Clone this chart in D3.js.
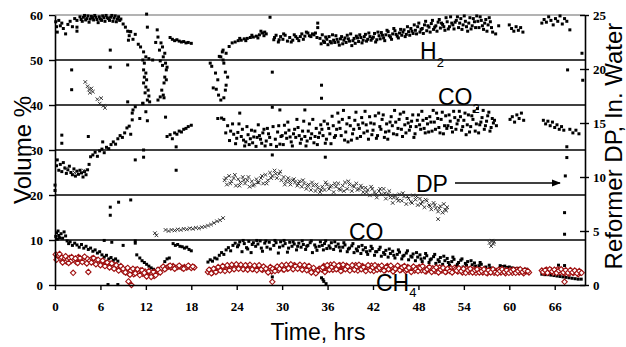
<!DOCTYPE html>
<html><head><meta charset="utf-8">
<script src="https://cdn.jsdelivr.net/npm/d3@7"></script>
<style>
html,body{margin:0;padding:0;background:#fff;}
svg{display:block;}
.ttl{font-family:"Liberation Sans",Arial,sans-serif;fill:#000;}
</style></head><body>
<svg id="c" width="626" height="347"></svg>
<script>
// ---------- data ----------
const xTicks = [0,6,12,18,24,30,36,42,48,54,60,66];
const leftTicks = [0,10,20,30,40,50,60];
const rightTicks = [0,5,10,15,20,25];
const gridVals = [10,20,30,40,50];

// H2, volume % (time hrs, value)
const h2 = [[0.1,58.5],[0.2,57.4],[0.3,56.2],[0.5,58.8],[0.7,57.6],[0.9,58.2],[1.1,57],[1.4,55.8],[1.7,57.9],[2,58.6],[2.3,57.4],[2.6,59.2],[2.9,58.8],[2.9,57.3],[2.9,56.4],[3.3,59.6],[3.6,58.6],[3.9,59.9],[4.2,59.2],[4.5,58.4],[4.8,59.7],[5.1,58.9],[5.4,59.5],[5.7,58.3],[6,59.1],[6.3,59.8],[6.6,58.6],[6.9,59.4],[7.2,58.8],[7.5,59.9],[7.8,59.3],[8.1,58.5],[8.4,59.6],[8.7,59.1],[9,58],[9.3,57.3],[9.6,56.4],[9.8,55.4],[10,56.3],[10.3,54.6],[10.6,55.7],[11,53.5],[11.3,52.9],[11.7,51.8],[12,50.7],[12.4,50.3],[12.9,50],[12.1,60.2],[12.2,57.3],
[3.45,59],[3.75,59.5],[4.05,58.9],[4.35,59.8],[4.65,59.1],[4.95,59.4],[5.25,59.9],[5.55,59],[5.85,59.6],[6.15,58.8],[6.45,59.4],[6.75,59.9],[7.05,59.2],[7.35,59.5],[7.65,58.6],[7.95,59.8],[8.25,59.1],[8.55,58.8],
[7.3,52.2],[7.3,48.4],[9.6,48.9],[9.6,40.7],[2.2,47.8],[2.2,43.4],[9.7,54.4],[9.9,56.3],
[11.6,50],[11.8,49.3],[11.7,47.8],[12,47.1],[11.8,46.2],[12.1,45.6],[11.7,44.9],[12,44],[12.3,43.3],[11.9,42.7],[12.2,41.1],[12.4,42],[11.6,40.4],[12.5,40.7],
[13.5,56.7],[13.6,55.1],[14,53.8],[14.2,52.9],[14.5,51.5],[14.3,50.7],[14.6,49.3],[14.8,48.4],[14.7,47.8],[14.5,46.2],[14.4,44.9],[14.1,43.3],[13.9,41.8],[13.6,41.1],[14.3,42.2],[13.8,52.2],[14.7,45.6],[14.2,48.8],[13.3,53.9],[13.9,49.8],[14.4,41.6],
[15.2,55],[15.5,54.6],[15.8,54.3],[16.1,54.5],[16.4,54.2],[16.7,54],[17,54.1],[17.3,53.8],[17.6,53.9],[18,53.7],
[20.5,49.3],[20.7,48.6],[21.2,47.1],[21.5,45.6],[20.9,43.8],[21.3,43.5],[21.6,42.2],[21.9,41.1],[22.3,41.6],[22.5,43.3],[22.6,44.4],[22.8,46.2],[22.5,47.3],[22.3,49.3],[22.2,50],[21.9,50.7],[22.1,51.8],[21.7,50.8],
[22.2,52.2],[22.6,51.5],[23,53],[23.4,53.8],[23.8,54],[24.2,54.3],[24.6,54.4],[25,54.7],[25.4,54.8],[25.8,55],[26.2,55.1],[26.6,55.3],[27,55.6],[27.4,56],[27.7,56.2],[27.9,55.8],[28.4,59.5],[28.7,47.3],
[24.4,54.8],[25.2,54.3],[26,55.5],[26.8,54.9],[27.2,56.4],[27.6,55.4],[29,55],[29.6,54.5],[30.2,55.8],[31.2,54],[31.6,55.6],[32,54.8],[32.4,55.2],[32.8,54.6],[33.2,56.2],[33.6,55.4],[34,55.8],[34.4,56],
[28.9,54.5],[29.2,55.5],[29.5,54],[29.8,55.2],[30.1,54.6],[30.4,55.5],[30.7,54.2],[31,55],[31.4,54.4],[31.8,55.2],[32.2,54.3],[32.6,55.8],[33,55.3],[33.4,56],[33.8,55.2],[34.2,55.6],[34.6,55],[34.7,58.2],[34.7,57.2],[35.2,44.4],[35.2,41.5],
[35,54.8],[35.3,55.6],[35.6,53.9],[35.9,54.6],[36.2,55.2],[36.5,53.8],[36.8,54.4],[37.1,55.4],[37.4,54],[37.7,54.7],[38,53.6],[38.3,54.9],[38.6,55.5],[38.9,54.2],[39.2,53.2],[39.5,54.8],[39.8,55.3],[40.1,54.1],[40.4,55],[40.7,54.4],[41,55.7],[41.3,54.6],[41.6,55.2],[41.9,54.8],[42.2,55.9],[42.5,54.5],[42.8,55.4],[43.1,56.1],[43.4,54.9],[43.7,55.6],[44,56.3],[44.3,55.1],[44.6,55.8],[44.9,56.5],[45.2,55.3],[45.5,56],[45.8,55.5],[46.1,56.7],[46.4,55.7],[46.7,56.3],[47,57],[47.3,55.9],[47.6,56.6],[47.9,57.4],[48.2,56.2],[48.5,57],[48.8,57.8],[49.1,56.5],[49.4,57.3],[49.7,58.1],[50,56.8],[50.3,57.6],[50.6,58.4],[50.9,57.1],[51.2,57.9],[51.5,56.6],[51.8,58.5],[52.1,57.4],[52.4,58.2],[52.7,56.9],
[35.15,53.6],[35.45,54.2],[35.75,55.1],[36.05,53.4],[36.35,54.1],[36.65,55.6],[36.95,53.9],[37.25,54.6],[37.55,53.3],[37.85,55.2],[38.15,54.4],[38.45,53.9],[38.75,54.7],[39.05,55.8],[39.35,54.3],[39.65,53.7],[39.95,54.9],[40.25,55.6],[40.55,53.8],[40.85,55.2],[41.15,54.2],[41.45,56],[41.75,54.4],[42.05,55.1],[42.35,54],[42.65,56.2],[42.95,54.7],[43.25,55.5],[43.55,54.3],[43.85,56.6],[44.15,55.4],[44.45,54.6],[44.75,57],[45.05,55.7],[45.35,54.9],[45.65,56.8],[45.95,56.2],[46.25,55.2],[46.55,57.4],[46.85,55.5],[47.15,56.4],[47.45,57.8],[47.75,55.8],[48.05,58.2],[48.35,56.8],[48.65,55.9],[48.95,58.6],[49.25,57.6],[49.55,56.2],[49.85,58.8],[50.15,57.3],[50.45,56.4],[50.75,59],[51.05,58.2],[51.35,57.4],[51.65,59.4],[51.95,56.9],[52.25,59.6],[52.55,57.8],[52.85,58.4],
[53,58.8],[53.3,57.2],[53.6,59.2],[53.9,57.8],[54.2,58.6],[54.5,56.4],[54.8,59.4],[55.1,57.6],[55.4,58.5],[55.7,59.8],[56,57.2],[56.3,58.8],[56.6,56.8],[56.9,59],[57.2,57.8],[57.5,58.5],[57.8,56.2],[58.2,55.8],[58.6,57.6],
[53.15,59.6],[53.45,58.2],[53.75,56.8],[54.05,59.8],[54.35,57.4],[54.65,58.2],[54.95,56.9],[55.25,59.2],[55.55,57.2],[55.85,58.6],[56.15,59.6],[56.45,57.6],[56.75,58.2],[57.05,56.4],[57.35,59.4],[57.65,57.2],
[60,57.8],[60.3,57],[60.6,56.4],[60.9,57.4],[61.2,56.6],[61.5,57.2],[61.8,56.2],
[64.3,58.2],[64.6,59],[64.9,58.4],[65.2,59.6],[65.5,58.8],[65.8,57.8],[66.1,59.2],[66.4,58.6],[66.7,59.8],[67,58],[67.3,59.2],[67.6,58.6],[68,56.7],
[67.7,47.8],[69.6,51.5],[69.7,45.5]];

// CO2, volume %
const co2 = [[0.2,26.5],[0.3,27.8],[0.5,25.5],[0.7,26.8],[0.9,25.2],[1.1,27.2],[1.3,26],[1.5,24.8],[1.7,25.6],[1.9,26.4],[2.1,25],[2.3,24.5],[2.5,25.8],[2.7,24.2],[2.9,25.3],[3.1,24.6],[3.3,25.5],[3.5,24.9],[3.7,24],[3.9,25.2],[4.1,24.5],[4.3,25.6],[4.5,26.8],[4.7,28.5],[5,28.9],[5.3,29.5],[5.6,28.6],[5.9,29.8],[6.2,30.2],[6.5,29.4],[6.8,30.6],[7.1,30.3],[7.4,31.2],[7.7,31.8],[8,31.3],[8.3,32.5],[8.6,33.2],[8.9,32.8],[9.2,33.8],[9.5,34.9],[9.8,35.3],[10,33.5],[10.3,38.9],[10.6,39.6],[11.2,37],[11.6,40.3],[12,38.5],[12.2,36.5],[10.2,38.2],[10.2,36.7],
[0.9,33.3],[0.9,31.5],[4.4,33],[6.3,31.8],[10.6,27.8],[11.7,30],[11.7,28.4],[7.3,17.3],[7.3,15.5],[8.4,18.4],[10,18.9],[16,25.5],[0,21],[0,22.2],
[14.8,33],[15.2,33.4],[15.5,32.5],[15.8,33.8],[16.1,33.5],[16.4,34.2],[16.7,34],[17,34.6],[17.3,34.8],[17.6,35.2],[18,35.5],[14.6,37.3],[16,30.7],
[21.5,37],[22,37.1],[24.4,38.2],[22.3,36.8],[22.8,35.4],[23.2,34.2],[23.6,33.5],[24,32.6],[24.3,35.8],[24.6,33],[24.9,32.2],[25.2,31.8],[25.5,33.4],[25.8,32.5],[26.1,31.6],[26.4,34.2],[26.7,32.8],[27,33.2],[27.3,31.5],[27.6,34.6],[27.9,32],[28.2,33.6],[28.7,39.5],[28.7,28.9],[28.5,31.2],[28.8,35.2],[29.1,32.4],[29.4,34],[29.7,31.3],[29.7,38.9],[30,33.2],[30.3,35.5],[30.6,32.6],[30.9,34.4],[31.2,31.8],[31.5,33.6],[31.8,32.8],[32.1,35],[32.4,31.5],[32.7,34.2],[33,38.9],[33,33],[33.3,32],[33.6,35.8],[33.9,33.6],[34.2,31.6],[34.5,34.8],[34.8,32.8],[35.1,35.6],[35.7,28.4],
[22.55,33.8],[23.05,32.1],[23.45,35.8],[23.85,31.4],[24.15,33.9],[24.75,34.6],[25.05,30.9],[25.35,35.2],[25.65,31.2],[25.95,34.4],[26.25,32.9],[26.55,30.8],[26.85,35.6],[27.15,32.4],[27.45,33.8],[27.75,30.9],[28.05,34.8],[28.35,32.8],[29.25,30.8],[29.55,35.4],[29.85,33],[30.15,31.2],[30.45,33.8],[30.75,36.2],[31.05,32.9],[31.35,30.9],[31.65,34.6],[31.95,36.8],[32.25,33.2],[32.55,32.4],[32.85,36.4],[33.15,30.9],[33.45,34.2],[33.75,32.6],[34.05,36.8],[34.35,33],[34.65,31.2],[34.95,33.8],
[35.4,33.2],[35.7,31.5],[36,35.8],[36.3,33.6],[36.6,37.5],[36.9,32.8],[37.2,34.6],[37.5,36.2],[37.8,33.2],[38.1,38.8],[38.4,34],[38.7,31.8],[39,35.4],[39.3,33.6],[39.6,36.6],[39.9,32.6],[40.2,34.8],[40.5,37.2],[40.8,33.8],[41.1,35.6],[41.4,32.4],[41.7,36],[42,34.4],[42.3,37.6],[42.6,33.2],[42.9,35.2],[43.2,36.8],[43.5,32.8],[43.8,35.8],[44.1,34.2],[44.4,37.4],[44.7,33.6],[45,36.2],[45.3,34.8],[45.6,38],[45.9,33],[46.2,35.6],[46.5,37],[46.8,34.4],[47.1,36.4],[47.4,32.8],[47.7,35.2],[48,37.8],[48.3,34.6],[48.6,36.6],[48.9,33.8],[49.2,35.8],[49.5,37.4],[49.8,34.2],[50.1,36.2],[50.4,38.2],[50.7,35],[51,36.8],[51.3,33.6],[51.6,37.6],[51.9,35.4],[52.2,36.4],[52.5,34],[52.8,37.2],
[35.25,34.6],[35.55,36.4],[35.85,32.4],[36.15,34.8],[36.45,31.4],[36.75,35.4],[37.05,33.2],[37.35,38.2],[37.65,34.8],[37.95,36.8],[38.25,32.2],[38.55,35.8],[38.85,37.2],[39.15,32.2],[39.45,34.6],[39.75,38.4],[40.05,35.6],[40.35,33],[40.65,36],[40.95,38.6],[41.25,34.2],[41.55,37.4],[41.85,33.4],[42.15,35.8],[42.45,32.6],[42.75,38.2],[43.05,34.6],[43.35,37.8],[43.65,34],[43.95,32.4],[44.25,36.2],[44.55,35.4],[44.85,38.8],[45.15,33.4],[45.45,36.8],[45.75,34.6],[46.05,38.4],[46.35,33.8],[46.65,36],[46.95,35.2],[47.25,37.8],[47.55,33.6],[47.85,36.6],[48.15,35.6],[48.45,38.6],[48.75,34.8],[49.05,37],[49.35,34],[49.65,36.2],[49.95,38.8],[50.25,34.6],[50.55,37],[50.85,33.8],[51.15,38.4],[51.45,35.4],[51.75,34.8],[52.05,37.8],[52.35,35],[52.65,38.6],[52.95,34.6],
[53.1,35.8],[53.4,38.6],[53.7,34.4],[54,36.6],[54.3,33.4],[54.6,37.8],[54.9,35.2],[55.2,36.8],[55.5,34.2],[55.8,39.2],[56.1,35.6],[56.4,37.2],[56.7,34.6],[57,36.4],[57.3,38.4],[57.6,35],[57.9,36],[58.3,35.4],
[53.25,36.6],[53.55,37.4],[53.85,35.2],[54.15,38.2],[54.45,35.6],[54.75,34],[55.05,37.6],[55.35,38.6],[55.65,35.8],[55.95,33.8],[56.25,36.2],[56.55,38.8],[56.85,35.4],[57.15,37.6],[57.45,34.2],[57.75,37],[58.05,36.6],
[60.1,36.8],[60.4,37.4],[60.7,36.2],[61,37.8],[61.3,37],[61.6,38.2],[61.9,36.6],
[64.5,36.6],[64.8,35.8],[65.1,36.4],[65.4,35.4],[65.7,36.2],[66,35],[66.3,35.6],[66.6,34.6],[66.9,35.2],[67.2,34.4],
[68,34.6],[68.4,33.8],[68.8,34.4],[69.2,33.6]];

// Reformer DP, in. water (right axis)
const dp = [[1.5,10.8],[2.6,10.4],[3.8,10.6],
[4.0,18.8],[4.3,18.4],[4.5,18.1],[4.6,17.8],[4.8,18.2],[5.0,17.9],[5.6,17.2],[5.9,16.8],[6.1,17.3],[6.4,16.6],[6.6,16.4],
[13.2,4.8],[13.4,4.6],[14.6,5.1],[15,5.0],[15.4,5.1],[15.8,5.05],[16.2,5.15],[16.6,5.1],[17,5.2],[17.4,5.15],[17.8,5.25],[18.2,5.2],[18.6,5.3],[19,5.25],[19.4,5.35],[19.8,5.4],[20.2,5.5],[20.6,5.6],[21,5.75],[21.4,5.9],[21.8,6.0],[22.2,6.2],
[22.4,9.7],[22.7,9.3],[23,10.1],[23.3,9.6],[23.6,9.9],[23.9,9.2],[24.2,9.8],[24.5,9.5],[24.8,10],[25.1,9.4],[25.4,9.7],[25.7,9.1],[26,9.6],[26.3,9.3],[26.6,9.8],[26.9,9.5],[27.2,9.9],[27.5,9.4],[27.8,10.2],[28.1,9.7],[28.4,10.4],[28.7,10.1],[29,10.6],[29.3,9.9],[29.6,10.3],[29.9,9.7],[30.2,10],[30.5,9.6],[30.8,9.9],[31.1,9.3],[31.4,9.7],[31.7,9.5],[32,9.2],[32.3,9.6],[32.6,9.1],[32.9,9.4],[33.2,8.9],[33.5,9.3],[33.8,8.8],[34.1,9.2],[34.4,8.7],[34.7,9],[35,8.6],
[35.3,9.1],[35.6,8.8],[35.9,9.3],[36.2,8.9],[36.5,9.2],[36.8,8.6],[37.1,9.1],[37.4,9.4],[37.7,8.8],[38,9.2],[38.3,9.5],[38.6,8.9],[38.9,9.3],[39.2,8.7],[39.5,9.1],[39.8,9.4],[40.1,8.9],[40.4,9.2],[40.7,8.6],[41,9],[41.3,8.8],[41.6,8.3],[41.9,8.9],[42.2,8.6],[42.5,8.1],[42.8,8.7],[43.1,8.4],[43.4,8.9],[43.7,8.0],[44,8.4],[44.3,8.1],[44.6,7.6],[44.9,8.3],[45.2,8.0],[45.5,8.4],[45.8,7.8],[46.1,8.2],[46.4,7.5],[46.7,8.0],[47,7.7],[47.3,8.3],[47.6,7.9],[47.9,7.4],[48.2,8.0],[48.5,7.7],[48.8,7.2],[49.1,7.8],[49.4,7.4],[49.7,7.0],[50,7.6],[50.3,7.1],[50.6,6.8],[50.9,7.3],[51.2,6.7],[51.5,7.0],[51.8,7.2],[50.6,6.1],
[22.55,9.9],[23.15,9.4],[23.75,10.2],[24.35,9.2],[24.95,9.7],[25.55,10],[26.15,9.2],[26.75,9.5],[27.35,10.1],[27.95,9.4],[28.55,9.9],[29.15,10.3],[29.75,10.5],[30.35,9.3],[30.95,9.6],[31.55,9.8],[32.15,9.4],[32.75,9.7],[33.35,9.2],[33.95,9.5],[34.55,9.3],[35.15,8.8],[35.75,9.5],[36.35,9.1],[36.95,9.4],[37.55,8.9],[38.15,8.7],[38.75,9.6],[39.35,9.2],[39.95,8.8],[40.55,9],[41.15,8.6],[41.75,9.1],[42.35,8.4],[42.95,8.9],[43.55,8.5],[44.15,8.7],[44.75,8.1],[45.35,7.8],[45.95,8.5],[46.55,8.2],[47.15,7.6],[47.75,8.2],[48.35,7.5],[48.95,7.9],[49.55,7.3],[50.15,7.4],[50.75,7.1],[51.35,7.5],[51.65,6.9],
[57.4,3.9],[57.7,4.1],[57.9,3.8],[57.6,3.6],[58,4]];

// late DP readings (right axis)
const dpLate = [[67.6,12.8],[67.6,11.8],[67.4,10.1],[67.3,6.7],[67.3,4.7],[67.3,1.8]];

// CO, volume %
const co = [[0.1,10.8],[0.2,11.6],[0.3,10.2],[0.4,12],[0.5,11],[0.6,10.5],[0.8,11.4],[1,10.4],[1.2,11.8],[1.4,10.9],[1.6,9.8],[1.8,9.2],[2,9.6],[2.3,8.8],[2.6,9.3],[2.9,8.9],[3.2,8.4],[3.5,9],[3.8,8.2],[4.1,8.6],[4.4,7.9],[4.7,8.2],[5,7.5],[5.3,7.8],[5.6,7.1],[5.9,7.4],[6.2,6.7],[6.5,6.2],[6.8,6.6],[7.1,5.8],[7.4,6.1],[7.7,5.5],[8,5.8],[8.3,5.3],[8.6,4.2],[8.9,3.6],[9.2,3.2],[9.5,2.5],[9.8,3.4],[10.1,2.8],[10.6,9.3],[10.8,6.7],[11.2,6],[11.5,5.4],[11.8,5],[12.1,4.6],[12.4,4.2],[12.7,3.8],[13,3.5],[13.3,3.2],[13.6,3.6],[13.9,3.3],[14.2,4.1],[14.5,5.2],[14.8,5.8],[15.1,6],[15.6,9.2],[15.9,8.8],[16.2,9],[16.5,8.6],[16.8,8.5],[17.1,8.2],[17.4,8.4],[17.7,7.9],[18,7.6],
[7,0.1],[8.3,0.1],[7.5,9.5],[9,8.8],[10.6,9.8],[6.5,9.9],
[20.2,5.1],[20.5,5.6],[20.8,5.3],[21.1,6],[21.4,5.8],[21.7,6.6],[22,7.2],[22.3,6.8],[22.6,7.8],[22.9,8.3],[23.2,7.6],[23.5,8.8],
[23.8,9.3],[24.1,8.5],[24.4,9.6],[24.7,7.4],[25,9.2],[25.3,8.3],[25.6,9.7],[25.9,7.2],[26.2,9.4],[26.5,8.6],[26.8,9.1],[27.1,9.8],[27.4,7.5],[27.7,9.3],[28,8.4],[28.3,9.5],[28.7,1.8],[28.9,8.8],[29.2,9.4],[29.5,7.1],[29.8,9.6],[30.1,8.7],[30.4,9.2],[30.7,7.3],[31,9.5],[31.3,8.6],[31.6,9.1],[31.9,7.8],[32.2,9.3],[32.5,8.4],[32.8,9],[33.1,7.9],[33.4,8.8],[33.7,9.4],[34,7.2],[34.3,8.9],[34.6,7.7],[34.9,8.6],
[24.25,8.9],[24.85,9.9],[25.45,8],[26.05,9],[26.65,9.9],[27.25,8.2],[27.85,9.8],[28.45,8],[29.05,9.9],[29.65,8.4],[30.25,9.9],[30.85,8.2],[31.45,9.6],[32.05,8.6],[32.65,9.8],[33.25,8.6],[33.85,9.8],[34.45,8.4],[35.05,9.6],
[35.2,1.6],[35.5,0.8],[35.8,0.3],[35.4,1.2],
[35.3,8.8],[35.6,9.2],[35.9,8.1],[36.2,8.7],[36.5,9.4],[36.8,7.9],[37.1,8.6],[37.4,9.1],[37.7,7.6],[38,8.4],[38.3,8.9],[38.6,7.4],[38.9,8.2],[39.2,8.7],[39.5,7.2],[39.8,8],[40.1,8.5],[40.4,7],[40.7,7.8],[41,8.3],[41.3,6.8],[41.6,7.6],[41.9,8.1],[42.2,6.6],[42.5,7.4],[42.8,7.9],[43.1,6.4],[43.4,7.2],[43.7,7.7],[44,6.2],[44.3,7],[44.6,7.5],[44.9,6],[45.2,6.8],[45.5,7.3],[45.8,5.8],[46.1,6.6],[46.4,7.1],[46.7,5.6],[47,6.4],[47.3,6.9],[47.6,5.4],[47.9,6.2],[48.2,6.7],[48.5,5.2],[48.8,6],[49.1,6.5],[49.4,5],[49.7,5.8],[50,6.3],[50.3,4.8],[50.6,5.6],[50.9,6.1],[51.2,4.6],[51.5,5.4],[51.8,5.9],[52.1,4.4],[52.4,5.2],[52.7,5.7],
[35.45,7.8],[35.75,9.8],[36.35,8.2],[36.95,9.6],[37.55,8.4],[38.15,9.4],[38.75,8],[39.35,9.2],[39.95,7.6],[40.55,8.8],[41.15,7.4],[41.75,8.6],[42.35,7.4],[42.95,8.4],[43.55,6.8],[44.15,8],[44.75,6.6],[45.35,7.8],[45.95,6.4],[46.55,7.6],[47.15,6.2],[47.75,7.2],[48.35,5.8],[48.95,7],[49.55,5.6],[50.15,6.8],[50.75,5.2],[51.35,6.4],[51.95,5],[52.55,6.2],[53.15,4.6],[53.75,5.8],[54.35,4.4],[54.95,5.4],[55.55,4.2],[56.15,5],[56.75,3.8],[57.35,4.4],[57.95,3.6],
[53,4.2],[53.3,5],[53.6,5.5],[53.9,4],[54.2,4.8],[54.5,5.2],[54.8,3.8],[55.1,4.5],[55.4,4.9],[55.7,3.6],[56,4.3],[56.3,4.6],[56.6,3.4],[56.9,4],[57.2,3.2],[57.5,3.8],[57.8,3],[58.1,2.8],
[58.8,4.3],[59.1,4.1],[59.4,4.2],[59.7,3.9],[60,4],[60.3,3.8],[60.6,3.7],[60.9,3.6],[61.2,3.7],[61.5,3.5],[61.8,3.4],[62.1,3.3],[62.3,3.5],
[64.3,2.4],[64.7,2.3],[65.1,2.3],[65.5,2.2],[65.9,2.1],[66.3,2.0],[66.7,1.9],[67.1,1.8],[67.5,1.7],[67.9,1.6],[68.3,1.5],[68.7,1.4],[69.1,1.3],[69.5,1.3],[66.5,4.4]];

// CH4, volume %
const ch4 = [[0.1,6.8],[0.3,6.2],[0.5,6.5],[0.7,5.8],[0.9,6.1],[1.1,5.4],[1.3,5.9],[1.5,5.2],[1.7,5.6],[1.9,6],[2.1,5.3],[2.4,2.7],[2.5,5.7],[2.8,5.1],[3.1,6.2],[3.4,5.5],[3.7,5.9],[4,5.2],[4.3,5.8],[4.4,2.9],[4.6,5.4],[4.9,5.9],[5.2,5],[5.5,5.5],[5.8,4.8],[6.1,5.2],[6.4,4.5],[6.7,4.9],[7,4.3],[7.3,4.7],[7.6,4],[7.9,4.4],[8.2,3.8],[8.5,3.4],[8.8,3.8],[9.1,3],[9.4,3.5],[9.7,2.6],[9.7,0.8],[10,3.2],[10.1,0],[10.4,2.4],[10.7,3.4],[11,2.8],[11.3,3.2],[11.6,2.5],[11.9,3],[12.2,2.2],[12.5,2.8],[12.8,2.4],[13.1,2],[13.4,2.6],[13.7,3],[14,3.6],[14.3,4.1],[14.7,3.8],[15,4.1],[15.3,3.9],[15.6,4.2],[15.9,3.8],[16.2,4],[16.5,4.1],[16.8,3.8],[17.1,4],[17.4,3.9],[17.7,4.1],[18,3.8],[18.4,3.9],
[0.2,5.6],[0.6,6.9],[1,5],[1.4,6.4],[1.8,4.9],[2.2,6.2],[2.7,5.9],[3,4.9],[3.3,6],[3.6,5.1],[3.9,6.3],[4.2,4.8],[4.8,5],[5.1,6],[5.4,4.6],[5.7,5.6],[6,4.4],[6.3,5.4],[6.6,4.2],[6.9,5],[7.2,3.9],[7.5,4.8],[7.8,3.6],[8.1,4.4],[8.4,3.2],[8.7,4.2],[9,3.6],[9.3,2.8],[9.6,3.8],[9.9,2.3],[10.3,3.6],[10.6,2.6],[10.9,3.5],[11.2,2.2],[11.5,3.3],[11.8,2.7],[12.1,1.9],[12.4,3.1],[12.7,1.8],[13,2.9],[13.3,2.2],[13.6,3.4],[13.9,2.8],[14.5,3.5],[15.2,4.3],[15.8,3.6],[16.4,4.3],[17,3.6],[17.6,4.3],[18.2,4.1],
[20.2,2.9],[20.5,3.2],[20.8,2.8],[21.1,3.5],[21.4,3.1],[21.7,3.7],[22,3.4],[22.3,3.9],[22.6,3.5],[22.9,4],[23.2,3.6],[23.5,4.2],[23.8,3.8],[24.1,4.3],[24.4,3.9],[24.7,4.1],[25,3.7],[25.3,4.2],[25.6,3.8],[25.9,4],[26.2,3.6],[26.5,4.1],[26.8,3.7],[27.1,3.9],[27.4,3.4],[27.7,3.8],[28,3.2],[28.3,3.6],[28.6,3],[28.7,0.7],[28.9,3.4],[29.2,3.7],[29.5,3.3],[29.8,3.9],[30.1,3.5],[30.4,4.1],[30.7,3.6],[31,4.3],[31.3,3.8],[31.6,4.4],[31.9,3.9],[32.2,4.2],[32.5,3.7],[32.8,4.1],[33.1,3.6],[33.4,4],[33.7,3.5],[34,3.1],[34.3,3.4],[34.6,2.9],[34.9,3.6],
[20.35,3.4],[20.65,2.6],[20.95,3.6],[21.25,2.9],[21.55,4],[21.85,3.2],[22.15,4.2],[22.45,3.1],[22.75,4.4],[23.05,3.3],[23.35,4.5],[23.65,3.5],[23.95,4.6],[24.25,3.6],[24.55,4.5],[24.85,3.5],[25.15,4.4],[25.45,3.4],[25.75,4.5],[26.05,3.5],[26.35,4.3],[26.65,3.3],[26.95,4.4],[27.25,3.5],[27.55,4.1],[27.85,3.6],[28.15,2.8],[28.45,4],[28.75,3.6],[29.05,3.1],[29.35,4.1],[29.65,3.6],[29.95,4.4],[30.25,3.4],[30.55,4.5],[30.85,3.7],[31.15,4.6],[31.45,3.5],[31.75,4.2],[32.05,3.6],[32.35,4.5],[32.65,3.4],[32.95,4.4],[33.25,3.3],[33.55,4.2],[33.85,2.8],[34.15,3.8],[34.45,2.6],[34.75,3.3],
[35.2,3.5],[35.5,4.2],[35.8,3.2],[36.1,3.9],[36.4,4.5],[36.7,3.4],[37,4.1],[37.3,3.7],[37.6,4.4],[37.9,3.3],[38.2,3.9],[38.5,4.3],[38.8,3.5],[39.1,4],[39.4,3.6],[39.7,4.4],[40,3.2],[40.3,3.8],[40.6,4.2],[40.9,3.4],[41.2,4],[41.5,3.6],[41.8,4.3],[42.1,3.1],[42.4,3.8],[42.7,4.1],[43,3.5],[43.3,3.9],[43.6,3.3],[43.9,4.2],[44.2,3.6],[44.5,3.9],[44.8,3.2],[45.1,3.8],[45.4,4.1],[45.7,3.4],[46,3.7],[46.3,3.1],[46.6,4],[46.9,3.5],[47.2,3.8],[47.5,3.2],[47.8,3.7],[48.1,4],[48.4,3.3],[48.7,3.6],[49,3],[49.3,3.8],[49.6,3.4],[49.9,3.7],[50.2,3.1],[50.5,3.5],[50.8,3.9],[51.1,3.2],[51.4,3.6],[51.7,3],[52,3.4],[52.3,3.7],[52.6,3.1],
[35.35,3.9],[35.65,2.9],[35.95,4.4],[36.25,3.4],[36.55,4],[36.85,4.6],[37.15,3.5],[37.45,4.3],[37.75,3.1],[38.05,4.5],[38.35,3.5],[38.65,4.1],[38.95,3.2],[39.25,4.4],[39.55,3.4],[39.85,4.1],[40.15,4.5],[40.45,3.5],[40.75,4],[41.05,3.1],[41.35,4.4],[41.65,3.3],[41.95,3.9],[42.25,4.4],[42.55,3.4],[42.85,3.8],[43.15,4.3],[43.45,3.2],[43.75,4],[44.05,3.5],[44.35,4.3],[44.65,3],[44.95,3.6],[45.25,4.3],[45.55,3.3],[45.85,3.9],[46.15,4.2],[46.45,3.4],[46.75,3.8],[47.05,2.9],[47.35,4.1],[47.65,3.5],[47.95,3.1],[48.25,3.8],[48.55,4.2],[48.85,3.1],[49.15,3.5],[49.45,4],[49.75,2.9],[50.05,3.4],[50.35,3.9],[50.65,2.8],[50.95,3.4],[51.25,3.8],[51.55,2.9],[51.85,3.6],[52.15,3.1],[52.45,2.8],[52.75,3.8],
[52.9,3.5],[53.2,3],[53.5,3.4],[53.8,2.8],[54.1,3.3],[54.4,3.6],[54.7,2.9],[55,3.2],[55.3,3.5],[55.6,2.7],[55.9,3.1],[56.2,3.4],[56.5,2.8],[56.8,3.2],[57.1,2.6],[57.4,3],[57.7,3.3],[58,2.7],[58.3,3.1],[58.6,3.4],[58.9,2.8],[59.2,3.2],[59.5,2.6],[59.8,3],[60.1,3.3],[60.4,2.7],[60.7,3],[61,3.4],[61.3,2.8],[61.6,3.1],[61.9,2.6],[62.2,3],[62.6,2.8],
[53.05,3.2],[53.35,3.7],[53.65,3.1],[53.95,3.6],[54.25,2.7],[54.55,3.3],[54.85,3.6],[55.15,2.8],[55.45,3.3],[55.75,3.5],[56.05,2.8],[56.35,3.1],[56.65,3.5],[56.95,2.7],[57.25,3.3],[57.55,2.8],[57.85,3.5],[58.15,2.9],[58.45,2.6],[58.75,3.1],[59.05,3.5],[59.35,2.9],[59.65,3.3],[59.95,2.7],[60.25,3.1],[60.55,3.4],[60.85,2.7],[61.15,3.1],[61.45,3.5],[61.75,2.9],[62.05,3.3],[62.45,3.1],
[64.3,3.2],[64.6,2.8],[64.9,3.4],[65.2,2.9],[65.5,3.3],[65.8,2.7],[66.1,3.1],[66.4,3.5],[66.7,2.8],[67,3.2],[67.3,2.6],[67.6,3],[67.9,2.5],[68.2,3.1],[68.5,2.7],[68.8,3],[69.1,2.4],[69.4,2.8],[67.3,0.7],
[64.45,2.9],[64.75,3.3],[65.05,2.7],[65.35,3.5],[65.65,3],[65.95,3.4],[66.25,2.7],[66.55,3.2],[66.85,3.5],[67.15,2.8],[67.45,3.3],[67.75,2.7],[68.05,3.3],[68.35,2.8],[68.65,3.2],[68.95,2.6],[69.25,3.1],[69.55,2.7]];

// ---------- drawing ----------
const svg = d3.select('#c');
const x = d3.scaleLinear().domain([0,70]).range([55,585]);
const yL = d3.scaleLinear().domain([0,60]).range([285,15]);
const yR = d3.scaleLinear().domain([0,25]).range([285,15]);

// top border
svg.append('line').attr('x1',x(0)).attr('x2',x(70)).attr('y1',yL(60)).attr('y2',yL(60))
  .attr('stroke','#9a9a9a').attr('stroke-width',1.5);
// gridlines
svg.append('g').selectAll('line').data(gridVals).join('line')
  .attr('x1',x(0)).attr('x2',x(70)).attr('y1',d=>yL(d)).attr('y2',d=>yL(d))
  .attr('stroke','#000').attr('stroke-width',1.4);

// series
const sq = 3;
function squares(data, yS){
  svg.append('g').selectAll('rect').data(data).join('rect')
    .attr('x',d=>x(d[0])-sq/2).attr('y',d=>yS(d[1])-sq/2)
    .attr('width',sq).attr('height',sq).attr('fill','#000');
}
squares(h2, yL);
squares(co2, yL);
squares(dpLate, yR);
// DP x marks
svg.append('g').selectAll('path').data(dp).join('path')
  .attr('d',d=>{const cx=x(d[0]),cy=yR(d[1]),r=1.8;return `M${cx-r},${cy-r}L${cx+r},${cy+r}M${cx-r},${cy+r}L${cx+r},${cy-r}`;})
  .attr('stroke','#222').attr('stroke-width',0.9).attr('fill','none');
squares(co, yL);
// CH4 open diamonds
svg.append('g').selectAll('path').data(ch4).join('path')
  .attr('d',d=>{const cx=x(d[0]),cy=yL(d[1]),r=2.7;return `M${cx},${cy-r}L${cx+r},${cy}L${cx},${cy+r}L${cx-r},${cy}Z`;})
  .attr('stroke','#a01010').attr('stroke-width',1.1).attr('fill','#fff');

// axes
const axL = svg.append('g').attr('transform','translate(55,0)')
  .call(d3.axisLeft(yL).tickValues(leftTicks).tickSize(6).tickPadding(6).tickSizeOuter(0));
const axB = svg.append('g').attr('transform','translate(0,285)')
  .call(d3.axisBottom(x).tickValues(xTicks).tickSize(5).tickPadding(12).tickSizeOuter(0));
const axR = svg.append('g').attr('transform','translate(585,0)')
  .call(d3.axisRight(yR).tickValues(rightTicks).tickSize(4).tickPadding(4).tickSizeOuter(0));
axR.selectAll('.tick line').attr('x1',-5);
[axL,axB,axR].forEach(a=>{
  a.select('.domain').attr('stroke','#000').attr('stroke-width',1.6);
  a.selectAll('.tick line').attr('stroke','#000').attr('stroke-width',1.4);
  a.selectAll('.tick text').attr('font-family','"Liberation Serif","Times New Roman",serif')
    .attr('font-weight','bold').attr('font-size',13).attr('fill','#000');
});

// titles
svg.append('text').attr('class','ttl').attr('font-size',24)
  .attr('transform','translate(31,150) rotate(-90)').attr('text-anchor','middle').text('Volume %');
svg.append('text').attr('class','ttl').attr('font-size',24)
  .attr('transform','translate(622,146) rotate(-90)').attr('text-anchor','middle').text('Reformer DP, In. Water');
svg.append('text').attr('class','ttl').attr('font-size',23)
  .attr('x',318).attr('y',340).attr('text-anchor','middle').text('Time, hrs');

// annotations
function label(xp, yp, main, sub, subDy){
  const t = svg.append('text').attr('class','ttl').attr('x',xp).attr('y',yp).attr('font-size',23);
  t.append('tspan').text(main);
  if(sub){ t.append('tspan').attr('font-size',13).attr('dy',subDy||8).text(sub); }
}
label(420,59,'H','2');
label(438,105,'CO','2');
label(416,192,'DP');
label(349,240,'CO');
label(376,291,'CH','4',6);
svg.append('defs').append('marker').attr('id','ah').attr('viewBox','0 0 10 10')
  .attr('refX',9).attr('refY',5).attr('markerWidth',7).attr('markerHeight',7).attr('orient','auto')
  .append('path').attr('d','M0,1L10,5L0,9Z').attr('fill','#000');
svg.append('line').attr('x1',455).attr('x2',560).attr('y1',183).attr('y2',183)
  .attr('stroke','#000').attr('stroke-width',1.3).attr('marker-end','url(#ah)');
</script>
</body></html>
